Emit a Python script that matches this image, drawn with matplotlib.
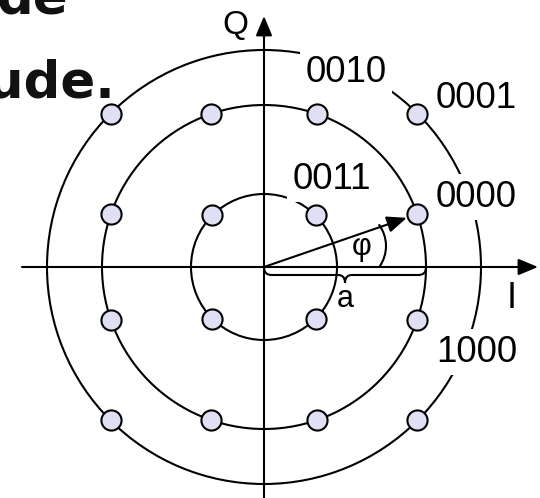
import numpy as np
import matplotlib.pyplot as plt
from matplotlib.path import Path
from matplotlib.patches import PathPatch, Circle, Arc

# constellation rings (radius in px of the picture) and point angles (deg)
ring_radius = [73, 162, 217]
inner_angles = [45, 135, 225, 315]
middle_angles = [19, 71, 109, 161, 199, 251, 289, 341]
outer_angles = [45, 135, 225, 315]

bit_labels = ['0010', '0001', '0011', '0000', '1000']
axis_labels = ['I', 'Q']
phase_angle = 19   # arrow goes to the 0000 point

fig = plt.figure(figsize=(5.4, 4.98), dpi=100)
ax = fig.add_axes([0, 0, 1, 1])
ax.set_xlim(-264, 276)
ax.set_ylim(-231, 267)
ax.axis('off')

#circles
for r in ring_radius:
    ax.add_patch(Circle((0, 0), r, fill=False, lw=1.5, color='black', zorder=1))

# I / Q axes with arrow heads
arw = dict(arrowstyle='-|>,head_length=12,head_width=5', mutation_scale=1,
           lw=1.5, color='black', shrinkA=0, shrinkB=0)
ax.annotate('', xy=(274, 0), xytext=(-242, 0), arrowprops=arw, zorder=2)
ax.annotate('', xy=(0, 251), xytext=(0, -240), arrowprops=arw, zorder=2)

# points
xs, ys = [], []
for r, angs in zip(ring_radius, [inner_angles, middle_angles, outer_angles]):
    a = np.radians(angs)
    xs += list(r * np.cos(a))
    ys += list(r * np.sin(a))

# phase arrow + angle mark (drawn as a small bulging arc like the original)
pa = np.radians(phase_angle)
tip = (ring_radius[1] - 11) * np.cos(pa), (ring_radius[1] - 11) * np.sin(pa)
ax.annotate('', xy=tip, xytext=(0, 0), arrowprops=arw, zorder=2)
ax.add_patch(Arc((86, 21), 72, 72, theta1=-36, theta2=37, lw=1.5, color='black'))

# brace under the radius a
r = ring_radius[1]
m = r / 2
verts = [(0, 0), (0, -6), (3, -8), (8, -8),
         (m - 7, -8),
         (m - 3, -8), (m, -10), (m, -16),
         (m, -10), (m + 3, -8), (m + 7, -8),
         (r - 8, -8),
         (r - 3, -8), (r, -6), (r, 0)]
codes = [Path.MOVETO, Path.CURVE4, Path.CURVE4, Path.CURVE4,
         Path.LINETO,
         Path.CURVE4, Path.CURVE4, Path.CURVE4,
         Path.CURVE4, Path.CURVE4, Path.CURVE4,
         Path.LINETO,
         Path.CURVE4, Path.CURVE4, Path.CURVE4]
ax.add_patch(PathPatch(Path(verts, codes), fill=False, lw=1.5, color='black', zorder=2))

# text
font = 'Liberation Sans'
box = dict(boxstyle='square,pad=0.15', fc='white', ec='none')
lab_pos = [(82, 195), (212, 169), (68, 88), (212, 70), (213, -85)]
for t, (x, y) in zip(bit_labels, lab_pos):
    ax.text(x, y, t, fontsize=26.5, family=font, ha='center', va='center', bbox=box, zorder=3)
ax.text(248, -31, axis_labels[0], fontsize=26, family=font, ha='center', va='center', zorder=3)
ax.text(-29, 242, axis_labels[1], fontsize=24, family=font, ha='center', va='center', zorder=3)
ax.text(98, 20, 'φ', fontsize=22, family=font, ha='center', va='center', zorder=3)
ax.text(81, -32, 'a', fontsize=22, family=font, ha='center', va='center', zorder=3)

# bits of slide text cut off at top left
ax.text(-196, 254, 'de', fontsize=37, weight='bold', ha='right', va='baseline', color='#111111')
ax.text(-149, 170, 'ude.', fontsize=37, weight='bold', ha='right', va='baseline', color='#111111')

ax.plot(xs, ys, 'o', ms=14.5, mfc='#E0E0F5', mec='black', mew=1.5, zorder=5)

fig.savefig('out.png', dpi=100)
